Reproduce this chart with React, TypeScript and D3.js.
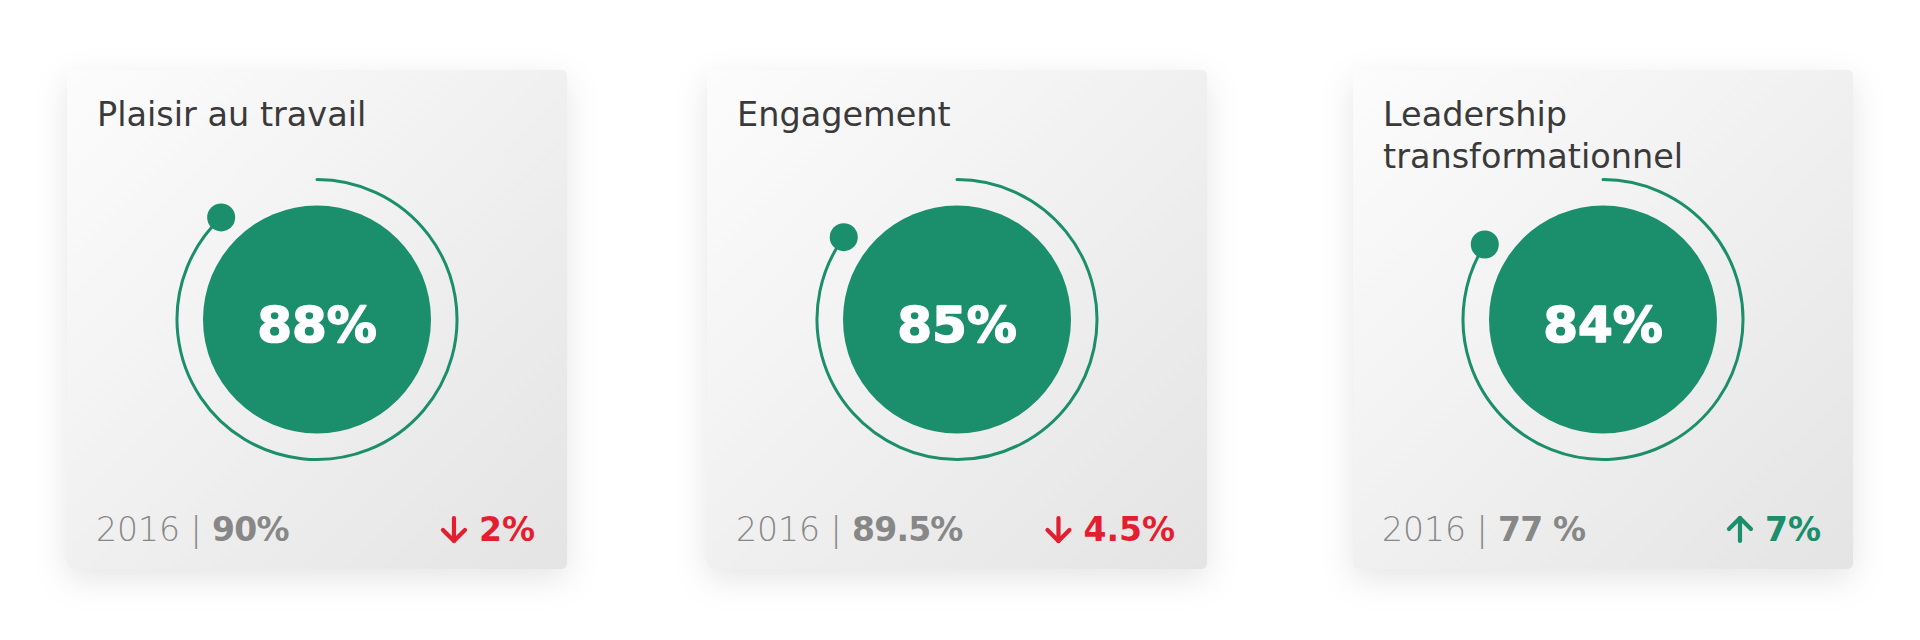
import React, { useLayoutEffect, useRef, useState } from "react";
import * as d3 from "d3";

// ---- data ----
const titles: string[][] = [["Plaisir au travail"], ["Engagement"], ["Leadership", "transformationnel"]];
const currentValues: number[] = [88, 85, 84];
const previousYear = "2016";
const previousLabels: string[] = ["90%", "89.5%", "77 %"];
const deltas: number[] = [-2, -4.5, 7];
const deltaLabels: string[] = ["2%", "4.5%", "7%"];

// ---- layout ----
const W = 1920;
const H = 640;
const cardX = [67, 707, 1353];
const cardY = 70;
const cardW = 500;
const cardH = 499;
const ringR = 140;
const discR = 114;
const dotR = 14;

const GREEN = "#1b8e6b";
const RED = "#e31e31";
const GRAY = "#878787";
const TITLE = "#3a3a3a";
const FONT = "'DejaVu Sans', sans-serif";

const angle = d3.scaleLinear().domain([0, 100]).range([0, 2 * Math.PI]);

function ringPath(v: number) {
  const p = d3.path();
  const a = angle(v);
  p.moveTo(0, -ringR);
  p.arc(0, 0, ringR, -Math.PI / 2, -Math.PI / 2 + a, false);
  return p.toString();
}

function Arrow({ up, color }: { up: boolean; color: string }) {
  const h = 23;
  const w = 11;
  const tipY = up ? -h : 0;
  const tailY = up ? 0 : -h;
  const headY = up ? -h + w : -w;
  return (
    <g stroke={color} strokeWidth={4.2} strokeLinecap="round" strokeLinejoin="round" fill="none">
      <line x1={0} y1={tailY} x2={0} y2={tipY} />
      <polyline points={`${-w},${headY} 0,${tipY} ${w},${headY}`} />
    </g>
  );
}

function Card({ i }: { i: number }) {
  const x0 = cardX[i];
  const cx = cardW / 2;
  const cy = cardH / 2;
  const v = currentValues[i];
  const a = angle(v);
  const dx = ringR * Math.sin(a);
  const dy = -ringR * Math.cos(a);
  const d = deltas[i];
  const up = d > 0;
  const dColor = up ? GREEN : RED;
  const deltaRef = useRef<SVGTextElement>(null);
  const [arrowX, setArrowX] = useState(cardW - 100);
  useLayoutEffect(() => {
    if (deltaRef.current) {
      const bb = deltaRef.current.getBBox();
      setArrowX(bb.x - 12 - 13);
    }
  }, []);
  const baseY = 471;
  return (
    <g transform={`translate(${x0},${cardY})`}>
      <rect width={cardW} height={cardH} rx={5} fill="url(#cardGrad)" filter="url(#shadow)" />
      <text x={30} y={56} fontFamily={FONT} fontSize={33.5} fill={TITLE} fontWeight={400}>
        {titles[i].map((t, k) => (
          <tspan key={k} x={30} dy={k === 0 ? 0 : 42}>
            {t}
          </tspan>
        ))}
      </text>
      <g transform={`translate(${cx},${cy})`}>
        <path d={ringPath(v)} fill="none" stroke={GREEN} strokeWidth={3} strokeLinecap="round" />
        <circle cx={dx} cy={dy} r={dotR} fill={GREEN} />
        <circle r={discR} fill={GREEN} />
        <text
          y={22}
          textAnchor="middle"
          fontFamily={FONT}
          fontWeight={700}
          fontSize={50}
          fill="#ffffff"
          stroke="#ffffff"
          strokeWidth={1.6}
          strokeLinejoin="round"
        >
          {v}%
        </text>
      </g>
      <text x={29} y={baseY} fontFamily={FONT} fontSize={33} fill={GRAY}>
        <tspan fontWeight={200}>{previousYear} </tspan>
        <tspan fontWeight={200}>| </tspan>
        <tspan fontWeight={700} letterSpacing={-0.8}>{previousLabels[i]}</tspan>
      </text>
      <text
        ref={deltaRef}
        x={cardW - 32}
        y={baseY}
        textAnchor="end"
        fontFamily={FONT}
        fontSize={33}
        fontWeight={700}
        fill={dColor}
      >
        {deltaLabels[i]}
      </text>
      <g transform={`translate(${arrowX},${baseY})`}>
        <Arrow up={up} color={dColor} />
      </g>
    </g>
  );
}

export default function App() {
  return (
    <svg
      width={W}
      height={H}
      viewBox={`0 0 ${W} ${H}`}
      style={{ position: "absolute", left: 0, top: 0, background: "#ffffff" }}
    >
      <defs>
        <linearGradient id="cardGrad" x1="0" y1="0" x2="1" y2="1">
          <stop offset="0%" stopColor="#fcfcfc" />
          <stop offset="100%" stopColor="#e4e4e4" />
        </linearGradient>
        <filter id="shadow" x="-20%" y="-20%" width="140%" height="145%">
          <feDropShadow dx={0} dy={10} stdDeviation={16} floodColor="#000" floodOpacity={0.1} />
        </filter>
      </defs>
      <rect width={W} height={H} fill="#ffffff" />
      {currentValues.map((_, i) => (
        <Card key={i} i={i} />
      ))}
    </svg>
  );
}
